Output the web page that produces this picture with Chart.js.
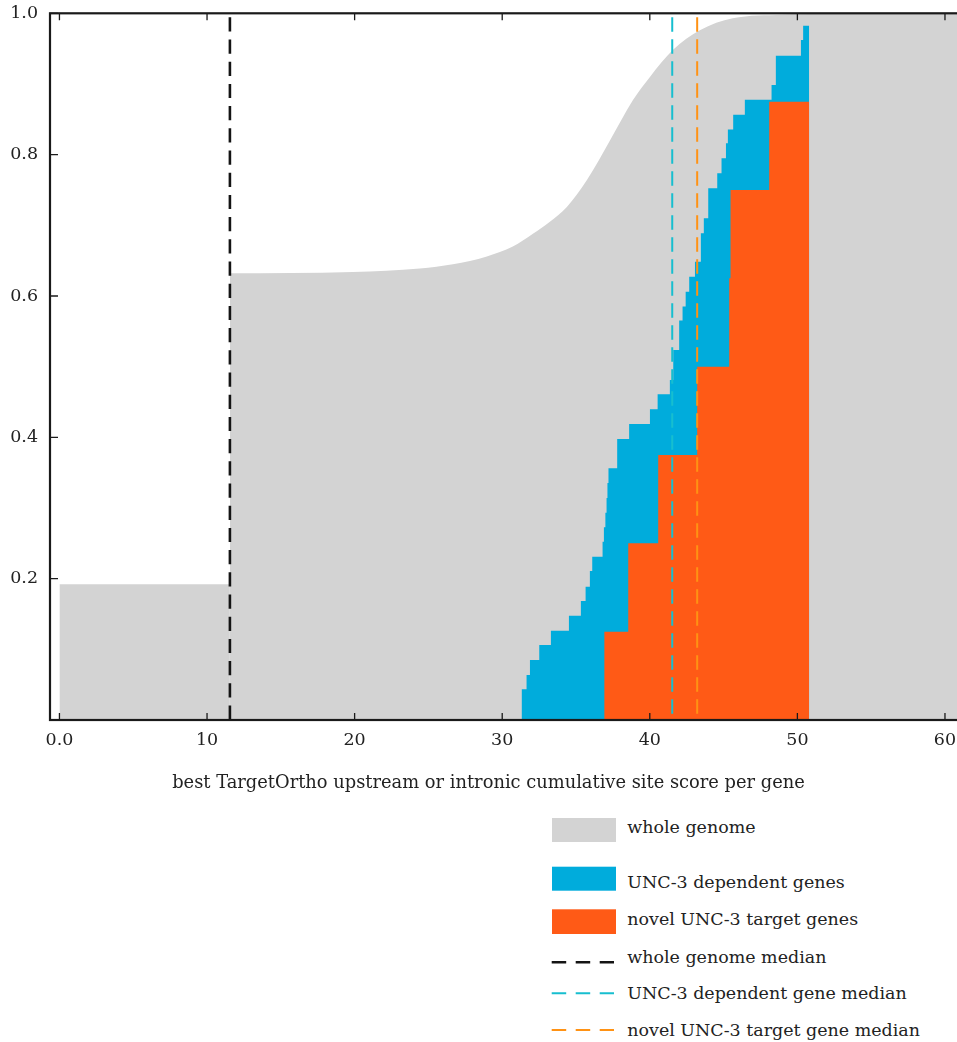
<!DOCTYPE html>
<html>
<head>
<meta charset="utf-8">
<title>UNC-3 TargetOrtho cumulative site score</title>
<script src="https://cdn.jsdelivr.net/npm/chart.js@4.4.1/dist/chart.umd.min.js"></script>
<style>
  html, body { margin:0; padding:0; background:#ffffff; }
  body { width:957px; height:1042px; overflow:hidden; position:relative; }
  #chartBox { position:absolute; left:0; top:0; }
  #legend { position:absolute; left:0; top:800px; }
</style>
</head>
<body>
<div id="chartBox"><canvas id="chart"></canvas></div>
<svg id="legend" width="957" height="242" xmlns="http://www.w3.org/2000/svg"></svg>
<script>
// ---------------- data ----------------
const xTickValues = [0, 10, 20, 30, 40, 50, 60];
const xTickLabels = ['0.0', '10', '20', '30', '40', '50', '60'];
const yTickValues = [0.2, 0.4, 0.6, 0.8, 1.0];
const yTickLabels = ['0.2', '0.4', '0.6', '0.8', '1.0'];

// whole genome cumulative fraction (step at the median, then smooth rise)
const genomeScore = [0, 11.55, 11.55, 19.88, 24.42, 26.66, 28.96, 30.72, 32.08, 33.23, 34.38, 35.74, 37.30, 38.85, 40.01, 41.56, 43.39, 45.62, 49.02, 50.78, 51.52, 62.5];
const genomeCum   = [0.192, 0.192, 0.632, 0.634, 0.639, 0.645, 0.656, 0.670, 0.688, 0.705, 0.726, 0.764, 0.820, 0.877, 0.910, 0.948, 0.976, 0.993, 0.998, 0.999, 1.0, 1.0];

// UNC-3 dependent genes (step CDF)
const depScore = [31.31, 31.65, 31.88, 32.51, 33.30, 34.52, 35.33, 35.65, 35.94, 36.10, 36.80, 36.89, 36.99, 37.07, 37.13, 37.20, 37.79, 38.60, 40.01, 40.53, 41.36, 41.59, 41.99, 42.22, 42.43, 42.67, 43.06, 43.46, 43.66, 43.96, 44.57, 44.86, 45.16, 45.29, 45.65, 46.44, 48.25, 48.54, 50.24, 50.39, 50.80];
const depCum   = [0.0434, 0.0637, 0.0849, 0.1061, 0.1264, 0.1476, 0.1684, 0.1886, 0.2108, 0.2311, 0.2523, 0.2727, 0.2933, 0.3141, 0.3354, 0.3562, 0.3976, 0.4188, 0.4396, 0.4609, 0.4811, 0.5236, 0.5653, 0.5851, 0.6061, 0.6273, 0.6485, 0.6887, 0.7099, 0.7524, 0.7736, 0.7948, 0.8160, 0.8356, 0.8565, 0.8777, 0.8985, 0.9400, 0.9622, 0.9824, 0.9824];

// novel UNC-3 target genes (step CDF)
const novelScore = [36.91, 38.54, 40.57, 43.21, 45.38, 45.47, 48.09, 50.80];
const novelCum   = [0.125, 0.25, 0.375, 0.5, 0.625, 0.75, 0.875, 0.875];

// medians
const medianGenome = 11.55;
const medianDep = 41.52;
const medianNovel = 43.21;

const seriesNames = ['whole genome', 'UNC-3 dependent genes', 'novel UNC-3 target genes',
                     'whole genome median', 'UNC-3 dependent gene median', 'novel UNC-3 target gene median'];
const xTitle = 'best TargetOrtho upstream or intronic cumulative site score per gene';

// ---------------- style ----------------
const COL_GRAY = '#d3d3d3', COL_BLUE = '#00acdc', COL_ORANGE = '#ff5a16';
const COL_BLACK = '#141414', COL_CYAN = '#17becf', COL_ORDASH = '#ff9214';
const TEXT = '#222222';
const FAMILY = "'DejaVu Serif', serif";

const W = 977, H = 800;
const PLOT_TOP = 13.3, PLOT_BOTTOM = 720, PLOT_LEFT = 50;
const X_MIN = -0.64, X_MAX = 62.17;

const mctx = document.createElement('canvas').getContext('2d');
function fitSize(text, target) {
  mctx.font = '100px ' + FAMILY;
  return 100 * target / mctx.measureText(text).width;
}
const titleSize = fitSize(xTitle, 633);
const legendSize = fitSize(seriesNames[5], 293);
const tickSize = legendSize;
const titlePadBottom = Math.max(0, H - 783 - 0.6 * titleSize);
const titleBox = titleSize * 1.2 + titlePadBottom;
const xAxisHeight = H - titleBox - PLOT_BOTTOM;

const toPts = (xs, ys) => xs.map((x, i) => ({ x: x, y: ys[i] }));
const vline = v => [{ x: v, y: 1 }, { x: v, y: 0 }];

// split the whole-genome series at its vertical jump: flat block + smooth curve
const genomePts = toPts(genomeScore, genomeCum);
let jump = 1;
for (let i = 1; i < genomePts.length; i++) {
  if (genomePts[i].x === genomePts[i - 1].x) { jump = i; break; }
}
const genomeBlock = genomePts.slice(0, jump);
const genomeCurve = genomePts.slice(jump);

const frameTicks = {
  id: 'frameTicks',
  afterDatasetsDraw(chart) {
    const { ctx, chartArea: a, scales: { x, y } } = chart;
    ctx.save();
    ctx.strokeStyle = '#1a1a1a';
    ctx.lineWidth = 1.3;
    ctx.beginPath();
    x.ticks.forEach(t => {
      const p = x.getPixelForValue(t.value);
      ctx.moveTo(p, a.bottom); ctx.lineTo(p, a.bottom - 7);
      ctx.moveTo(p, a.top); ctx.lineTo(p, a.top + 7);
    });
    y.ticks.forEach(t => {
      const p = y.getPixelForValue(t.value);
      ctx.moveTo(a.left, p); ctx.lineTo(a.left + 8, p);
      ctx.moveTo(a.right, p); ctx.lineTo(a.right - 8, p);
    });
    ctx.stroke();
    ctx.lineWidth = 2.2;
    ctx.strokeRect(a.left, a.top, a.right - a.left, a.bottom - a.top);
    ctx.restore();
  }
};

const canvas = document.getElementById('chart');
canvas.width = W; canvas.height = H;
canvas.style.width = W + 'px'; canvas.style.height = H + 'px';

const chart = new Chart(canvas, {
  type: 'line',
  data: {
    datasets: [
      { label: seriesNames[0], data: genomeBlock, backgroundColor: COL_GRAY,
        borderColor: 'rgba(0,0,0,0)', borderWidth: 0, fill: 'start', pointRadius: 0, tension: 0, order: 5 },
      { label: seriesNames[0], data: genomeCurve, backgroundColor: COL_GRAY,
        borderColor: 'rgba(0,0,0,0)', borderWidth: 0, fill: 'start', pointRadius: 0,
        cubicInterpolationMode: 'monotone', order: 4 },
      { label: seriesNames[1], data: toPts(depScore, depCum), stepped: true, backgroundColor: COL_BLUE,
        borderColor: 'rgba(0,0,0,0)', borderWidth: 0, fill: 'start', pointRadius: 0, order: 3 },
      { label: seriesNames[2], data: toPts(novelScore, novelCum), stepped: true, backgroundColor: COL_ORANGE,
        borderColor: 'rgba(0,0,0,0)', borderWidth: 0, fill: 'start', pointRadius: 0, order: 2 },
      { label: seriesNames[3], data: vline(medianGenome), borderColor: COL_BLACK, borderWidth: 2.6,
        borderDash: [14.2, 8], borderDashOffset: 18.2, fill: false, pointRadius: 0, order: 1 },
      { label: seriesNames[4], data: vline(medianDep), borderColor: COL_CYAN, borderWidth: 2,
        borderDash: [14.5, 7.5], borderDashOffset: 18, fill: false, pointRadius: 0, order: 1 },
      { label: seriesNames[5], data: vline(medianNovel), borderColor: COL_ORDASH, borderWidth: 2,
        borderDash: [14.5, 7.5], borderDashOffset: 18, fill: false, pointRadius: 0, order: 1 }
    ]
  },
  options: {
    responsive: false,
    animation: false,
    devicePixelRatio: 1,
    events: [],
    layout: { padding: { left: 0, right: 0, top: PLOT_TOP, bottom: 0 } },
    plugins: {
      legend: { display: false },
      tooltip: { enabled: false },
      title: {
        display: true, position: 'bottom', text: xTitle, color: TEXT,
        font: { family: FAMILY, size: titleSize, weight: 'normal', lineHeight: 1.2 },
        padding: { top: 0, bottom: titlePadBottom }
      }
    },
    scales: {
      x: {
        type: 'linear', min: X_MIN, max: X_MAX,
        afterBuildTicks: s => { s.ticks = xTickValues.map(v => ({ value: v })); },
        afterFit: s => { s.height = xAxisHeight; s.paddingLeft = 0; s.paddingRight = 0; },
        ticks: {
          autoSkip: false, maxRotation: 0, padding: 10, color: TEXT,
          font: { family: FAMILY, size: tickSize },
          callback: v => xTickLabels[xTickValues.indexOf(v)]
        },
        grid: { display: false, drawTicks: false },
        border: { display: false }
      },
      y: {
        type: 'linear', min: 0, max: 1,
        afterBuildTicks: s => { s.ticks = yTickValues.map(v => ({ value: v })); },
        afterFit: s => { s.width = PLOT_LEFT; s.paddingTop = 0; s.paddingBottom = 0; },
        ticks: {
          autoSkip: false, padding: 12, color: TEXT,
          font: { family: FAMILY, size: tickSize },
          callback: v => yTickLabels[yTickValues.indexOf(v)]
        },
        grid: { display: false, drawTicks: false },
        border: { display: false }
      }
    }
  },
  plugins: [frameTicks]
});

// correct the layout so the plot frame lands where the reference has it
const dTop = chart.chartArea.top - PLOT_TOP;
if (Math.abs(dTop) > 0.3) {
  chart.options.layout.padding.top = Math.max(0, PLOT_TOP - dTop);
  chart.update();
}

// ---------------- legend (SVG text) ----------------
const svg = document.getElementById('legend');
const NS = 'http://www.w3.org/2000/svg';
const OY = 800;
const legendItems = [
  { kind: 'box', color: COL_GRAY, y0: 818, y1: 842, base: 833.3 },
  { kind: 'box', color: COL_BLUE, y0: 866.7, y1: 890.7, base: 888.3 },
  { kind: 'box', color: COL_ORANGE, y0: 909.3, y1: 934, base: 925 },
  { kind: 'dash', color: COL_BLACK, y: 962.3, w: 2.6, base: 962.7 },
  { kind: 'dash', color: COL_CYAN, y: 993.3, w: 2, base: 999.3 },
  { kind: 'dash', color: COL_ORDASH, y: 1030, w: 2, base: 1035.5 }
];
legendItems.forEach((it, i) => {
  if (it.kind === 'box') {
    const r = document.createElementNS(NS, 'rect');
    r.setAttribute('x', 552); r.setAttribute('y', it.y0 - OY);
    r.setAttribute('width', 64); r.setAttribute('height', it.y1 - it.y0);
    r.setAttribute('fill', it.color);
    svg.appendChild(r);
  } else {
    const l = document.createElementNS(NS, 'line');
    l.setAttribute('x1', 551.7); l.setAttribute('x2', 614);
    l.setAttribute('y1', it.y - OY); l.setAttribute('y2', it.y - OY);
    l.setAttribute('stroke', it.color); l.setAttribute('stroke-width', it.w);
    l.setAttribute('stroke-dasharray', '14.5 9.5');
    svg.appendChild(l);
  }
  const t = document.createElementNS(NS, 'text');
  t.setAttribute('x', 627.3); t.setAttribute('y', it.base - OY);
  t.setAttribute('fill', TEXT);
  t.setAttribute('font-family', FAMILY.replace(/'/g, ''));
  t.setAttribute('font-size', legendSize.toFixed(2));
  t.textContent = seriesNames[i];
  svg.appendChild(t);
});
</script>
</body>
</html>
